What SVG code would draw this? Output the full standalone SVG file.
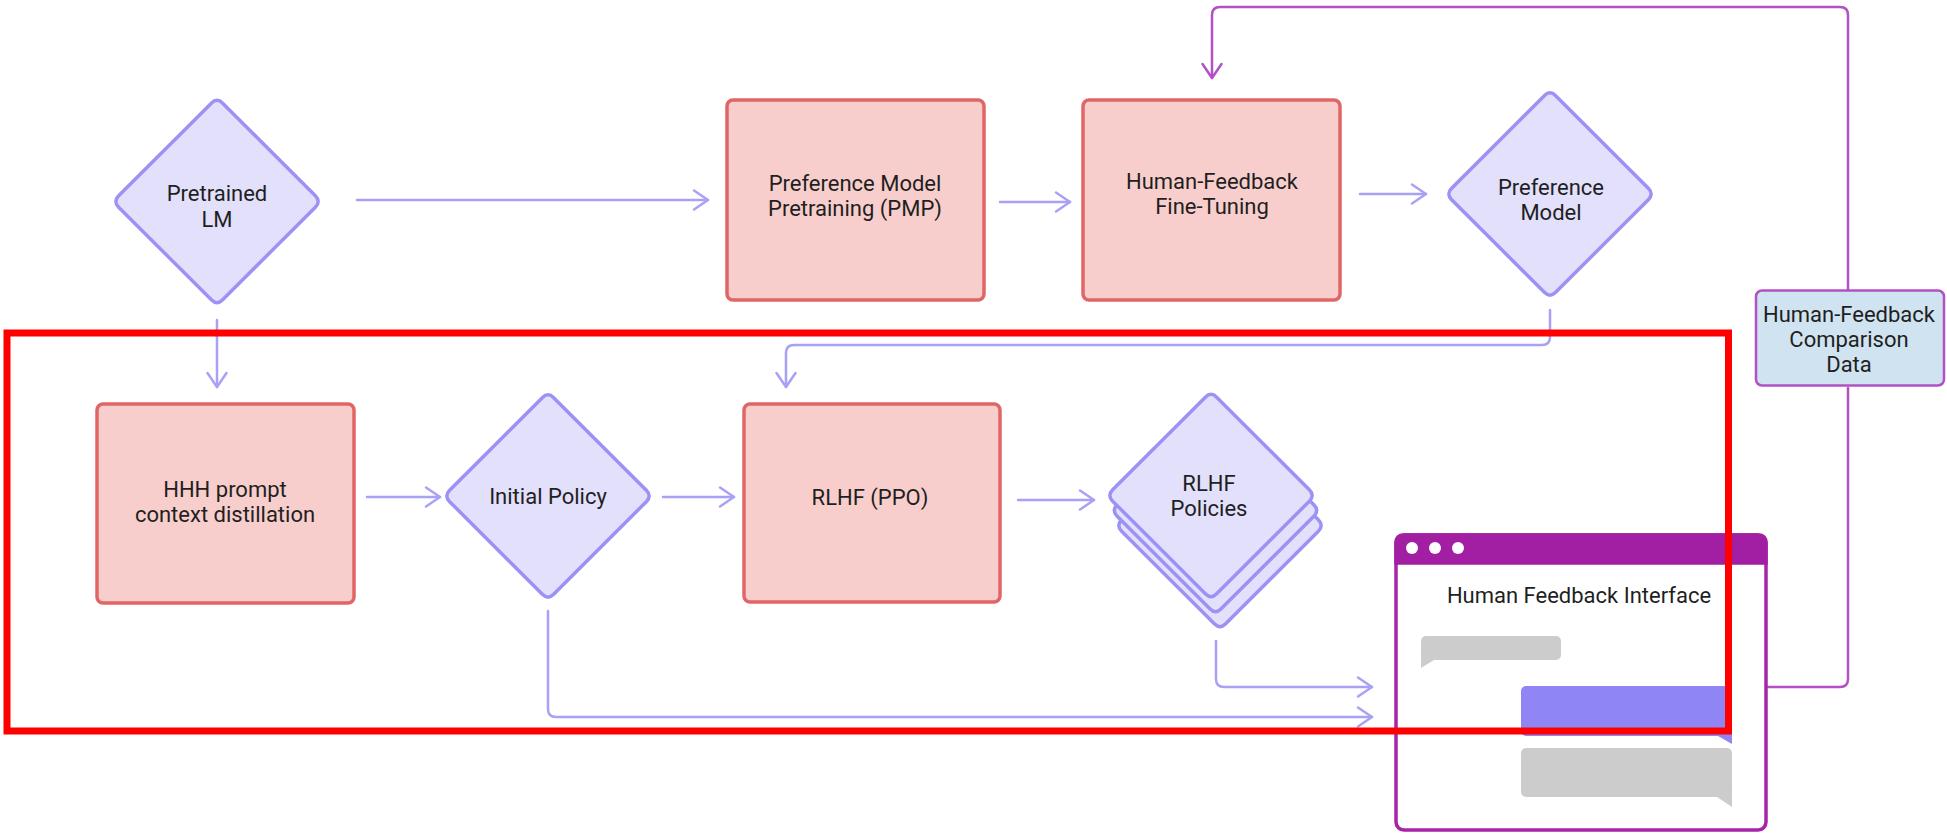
<svg xmlns="http://www.w3.org/2000/svg" width="1947" height="835" viewBox="0 0 1947 835">
<style>
.conn{fill:none;stroke:#a9a1f6;stroke-width:2.5;stroke-linecap:round;stroke-linejoin:round}
.connp{fill:none;stroke:#b350c4;stroke-width:2.5;stroke-linecap:round;stroke-linejoin:round}
.dia{fill:#e2e0fb;stroke:#9c92f3;stroke-width:3.5}
.box{fill:#f8cecc;stroke:#e06666;stroke-width:3.5}
.lbl{font-family:Roboto,"Liberation Sans",sans-serif;font-size:22px;fill:#1f1f1f;text-anchor:middle}
</style>
<defs>
<path id="diamond" d="M-5.66,-98.34 Q0,-104 5.66,-98.34 L98.34,-5.66 Q104,0 98.34,5.66 L5.66,98.34 Q0,104 -5.66,98.34 L-98.34,5.66 Q-104,0 -98.34,-5.66 Z"/>
<marker id="arr" markerUnits="userSpaceOnUse" markerWidth="32" markerHeight="32" viewBox="-16 -16 32 32" refX="0" refY="0" orient="auto" overflow="visible">
<path d="M-14,-9.5 L0,0 L-14,9.5" fill="none" stroke="#a9a1f6" stroke-width="2.5" stroke-linecap="round" stroke-linejoin="round"/>
</marker>
<marker id="arrp" markerUnits="userSpaceOnUse" markerWidth="32" markerHeight="32" viewBox="-16 -16 32 32" refX="0" refY="0" orient="auto" overflow="visible">
<path d="M-14,-9.5 L0,0 L-14,9.5" fill="none" stroke="#b350c4" stroke-width="2.5" stroke-linecap="round" stroke-linejoin="round"/>
</marker>
</defs>
<rect width="1947" height="835" fill="#ffffff"/>

<g id="connectors">
<path class="conn" d="M357,200 H708" marker-end="url(#arr)"/>
<path class="conn" d="M1000,202 H1070" marker-end="url(#arr)"/>
<path class="conn" d="M1360,194 H1426" marker-end="url(#arr)"/>
<path class="conn" d="M1550,310 V337 Q1550,345 1542,345 H794 Q786,345 786,353 V387" marker-end="url(#arr)"/>
<path class="conn" d="M217,320 V387" marker-end="url(#arr)"/>
<path class="conn" d="M367,497 H440" marker-end="url(#arr)"/>
<path class="conn" d="M663,497 H734" marker-end="url(#arr)"/>
<path class="conn" d="M1018,500 H1094" marker-end="url(#arr)"/>
<path class="conn" d="M1216,641 V679 Q1216,687 1224,687 H1372" marker-end="url(#arr)"/>
<path class="conn" d="M548,611 V709 Q548,717 556,717 H1372" marker-end="url(#arr)"/>
<path class="connp" d="M1768,687 H1840 Q1848,687 1848,679 V388"/>
<path class="connp" d="M1848,290 V15 Q1848,7 1840,7 H1220 Q1212,7 1212,15 V78" marker-end="url(#arrp)"/>
</g>

<g id="pretrained-lm">
<use href="#diamond" class="dia" x="217" y="201.5"/>
<text class="lbl" x="217" y="201">Pretrained</text>
<text class="lbl" x="217" y="227">LM</text>
</g>

<g id="pmp">
<rect class="box" x="727" y="100" width="257" height="200" rx="6"/>
<text class="lbl" x="855" y="191">Preference Model</text>
<text class="lbl" x="855" y="216">Pretraining (PMP)</text>
</g>

<g id="hf-finetuning">
<rect class="box" x="1083" y="100" width="257" height="200" rx="6"/>
<text class="lbl" x="1212" y="189">Human-Feedback</text>
<text class="lbl" x="1212" y="214">Fine-Tuning</text>
</g>

<g id="preference-model">
<use href="#diamond" class="dia" x="1550" y="194"/>
<text class="lbl" x="1551" y="195">Preference</text>
<text class="lbl" x="1551" y="220">Model</text>
</g>

<g id="hf-comparison-data">
<rect x="1756" y="290.5" width="188" height="95" rx="6" fill="#cfe3f0" stroke="#b350c4" stroke-width="2.5"/>
<text class="lbl" x="1849" y="322">Human-Feedback</text>
<text class="lbl" x="1849" y="347">Comparison</text>
<text class="lbl" x="1849" y="372">Data</text>
</g>

<g id="hhh-distillation">
<rect class="box" x="97" y="404" width="257" height="199" rx="6"/>
<text class="lbl" x="225" y="497">HHH prompt</text>
<text class="lbl" x="225" y="522">context distillation</text>
</g>

<g id="initial-policy">
<use href="#diamond" class="dia" x="548" y="496"/>
<text class="lbl" x="548" y="504">Initial Policy</text>
</g>

<g id="rlhf-ppo">
<rect class="box" x="744" y="404" width="256" height="198" rx="6"/>
<text class="lbl" x="870" y="505">RLHF (PPO)</text>
</g>

<g id="rlhf-policies">
<use href="#diamond" class="dia" x="1220" y="525.5"/>
<use href="#diamond" class="dia" x="1215.5" y="510.5"/>
<use href="#diamond" class="dia" x="1211" y="495.5"/>
<text class="lbl" x="1209" y="491">RLHF</text>
<text class="lbl" x="1209" y="516">Policies</text>
</g>

<g id="human-feedback-interface">
<rect x="1396" y="535" width="370" height="295" rx="8" fill="#ffffff" stroke="#a624a8" stroke-width="3.5"/>
<path d="M1396,563 V543 Q1396,535 1404,535 H1758 Q1766,535 1766,543 V563 Z" fill="#a21fa3" stroke="#a21fa3" stroke-width="3.5"/>
<circle cx="1412" cy="548" r="6" fill="#ffffff"/>
<circle cx="1435" cy="548" r="6" fill="#ffffff"/>
<circle cx="1458" cy="548" r="6" fill="#ffffff"/>
<text class="lbl" x="1579" y="603">Human Feedback Interface</text>
<rect x="1421" y="636" width="140" height="24" rx="5" fill="#cccccc"/>
<path d="M1421,652 L1421,668 L1434,660 Z" fill="#cccccc"/>
<rect x="1521" y="686" width="211" height="50" rx="5" fill="#8f85f4"/>
<path d="M1732,728 L1732,744 L1718,736 Z" fill="#8f85f4"/>
<rect x="1521" y="748" width="211" height="49" rx="5" fill="#cccccc"/>
<path d="M1732,789 L1732,807 L1717,797 Z" fill="#cccccc"/>
</g>

<rect id="highlight" x="7" y="333" width="1721.5" height="398" fill="none" stroke="#ff0000" stroke-width="7"/>
</svg>
